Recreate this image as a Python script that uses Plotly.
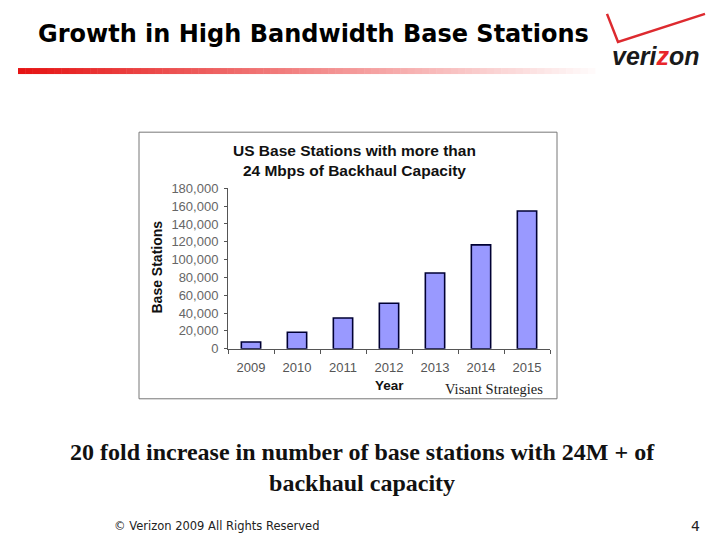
import plotly.graph_objects as go

years = ["2009", "2010", "2011", "2012", "2013", "2014", "2015"]
stations = [7500, 18500, 34500, 51000, 85000, 116500, 154500]
ytick_vals = [0, 20000, 40000, 60000, 80000, 100000, 120000, 140000, 160000, 180000]
ytick_text = ["0", "20,000", "40,000", "60,000", "80,000", "100,000", "120,000", "140,000", "160,000", "180,000"]

W, H = 720, 540
VS = 0.97  # observed vertical squeeze of the photographed page
def px(x): return x / W
def py(y):
    yf = H / 2 + (y - H / 2) / VS
    return 1 - yf / H

fig = go.Figure()
fig.add_trace(go.Bar(
    x=years, y=stations, width=0.42,
    marker=dict(color="#9999FF", line=dict(color="#000033", width=1.6)),
    hoverinfo="x+y",
))

shapes = []
shapes.append(dict(type="rect", xref="paper", yref="paper",
                   x0=px(139), x1=px(557), y0=py(399), y1=py(133),
                   line=dict(color="#777777", width=1), fillcolor="rgba(0,0,0,0)", layer="below"))
n = 80
x_start, x_end = 18, 595
for i in range(n):
    t = i / (n - 1)
    r = 230 + int(25 * t)
    g = int(20 + 230 * t)
    b = int(20 + 230 * t)
    shapes.append(dict(type="rect", xref="paper", yref="paper",
                       x0=px(x_start + (x_end - x_start) * i / n),
                       x1=px(x_start + (x_end - x_start) * (i + 1) / n + 0.5),
                       y0=py(75), y1=py(69),
                       line=dict(width=0), fillcolor=f"rgb({r},{g},{b})"))
shapes.append(dict(type="path", xref="paper", yref="paper",
                   path=f"M {px(607)},{py(15)} L {px(618)},{py(43)} L {px(705)},{py(15)}",
                   line=dict(color="#DD2A2F", width=2.5)))

annotations = [
    dict(text="<b>Growth in High Bandwidth Base Stations</b>", x=px(313), y=py(35), xref="paper", yref="paper",
         showarrow=False, font=dict(family="DejaVu Sans", size=24, color="#000000"),
         xanchor="center", yanchor="middle"),
    dict(text="<b><i>veri<span style='color:#E8262B'>z</span>on</i></b>", x=px(656), y=py(57),
         xref="paper", yref="paper", showarrow=False,
         font=dict(family="Liberation Sans", size=25, color="#1a1a1a"), xanchor="center", yanchor="middle"),
    dict(text="<b>US Base Stations with more than<br>24 Mbps of Backhaul Capacity</b>", x=px(354), y=py(161),
         xref="paper", yref="paper", showarrow=False,
         font=dict(family="Liberation Sans", size=15.5, color="#111111"), xanchor="center", yanchor="middle"),
    dict(text="<b>Base Stations</b>", x=px(157), y=py(268), xref="paper", yref="paper", showarrow=False,
         textangle=-90, font=dict(family="Liberation Sans", size=14, color="#111111"),
         xanchor="center", yanchor="middle"),
    dict(text="<b>Year</b>", x=px(389), y=py(386), xref="paper", yref="paper", showarrow=False,
         font=dict(family="Liberation Sans", size=13.5, color="#111111"), xanchor="center", yanchor="middle"),
    dict(text="Visant Strategies", x=px(545), y=py(389), xref="paper", yref="paper", showarrow=False,
         font=dict(family="Liberation Serif", size=14.5, color="#222222"), xanchor="right", yanchor="middle"),
    dict(text="<b>20 fold increase in number of base stations with 24M + of<br>backhaul capacity</b>",
         x=px(362), y=py(468), xref="paper", yref="paper", showarrow=False, align="center",
         font=dict(family="Liberation Serif", size=24, color="#111111"), xanchor="center", yanchor="middle"),
    dict(text="© Verizon 2009 All Rights Reserved", x=px(112), y=py(526), xref="paper", yref="paper",
         showarrow=False, font=dict(family="DejaVu Sans", size=11.5, color="#222222"),
         xanchor="left", yanchor="middle"),
    dict(text="4", x=px(695), y=py(526), xref="paper", yref="paper", showarrow=False,
         font=dict(family="DejaVu Sans", size=14, color="#222222"), xanchor="center", yanchor="middle"),
]

fig.update_layout(
    width=W, height=H, margin=dict(l=0, r=0, t=0, b=0),
    paper_bgcolor="white", plot_bgcolor="white",
    showlegend=False, shapes=shapes, annotations=annotations,
    xaxis=dict(domain=[px(228), px(550)], showgrid=False, showline=True, linecolor="#555555", linewidth=1,
               ticks="outside", tickson="boundaries", ticklen=4, tickcolor="#555555",
               tickfont=dict(family="Liberation Sans", size=13, color="#555555"), ticklabelstandoff=7),
    yaxis=dict(domain=[py(349), py(189)], range=[0, 180000], tickvals=ytick_vals, ticktext=ytick_text,
               showgrid=False, showline=True, linecolor="#555555", linewidth=1, zeroline=False,
               ticks="outside", ticklen=3, tickcolor="#555555",
               tickfont=dict(family="Liberation Sans", size=13, color="#666666"), ticklabelstandoff=3),
)

fig.write_html("out.html")
